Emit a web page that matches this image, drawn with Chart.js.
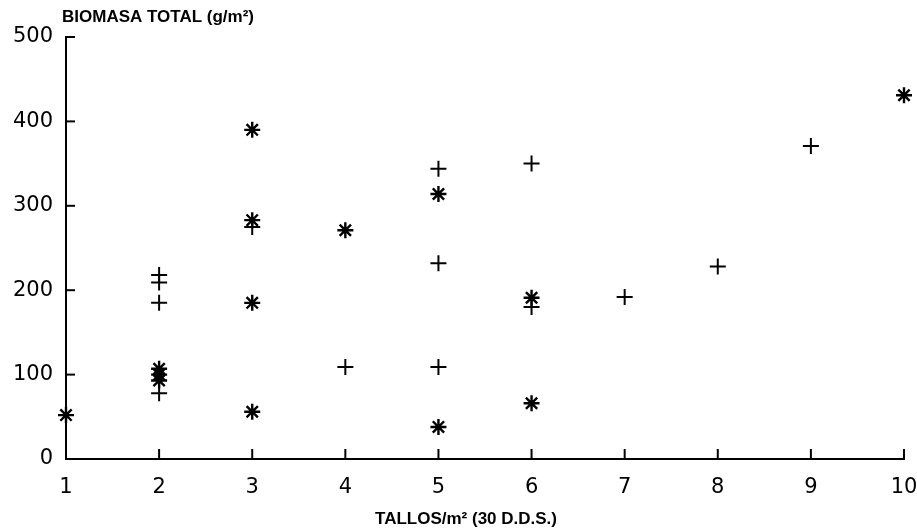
<!DOCTYPE html>
<html>
<head>
<meta charset="utf-8">
<script src="https://cdn.jsdelivr.net/npm/chart.js@4/dist/chart.umd.min.js"></script>
<style>
  html, body { margin: 0; background: #fff; }
</style>
</head>
<body>
<canvas id="chart" width="917" height="528"></canvas>
<script>
// ============================================
// データ
// ============================================
const xTitle = "TALLOS/m² (30 D.D.S.)";
const yTitle = "BIOMASA TOTAL (g/m²)";

// 「*」のシリーズ
const starX = [1, 2, 2, 2, 3, 3, 3, 3, 4, 5, 5, 6, 6, 10];
const starY = [52, 107, 100, 93, 390, 283, 185, 56, 271, 314, 38, 191, 66, 431];

// 「+」のシリーズ
const crossX = [2, 2, 2, 2, 3, 4, 5, 5, 5, 6, 6, 7, 8, 9];
const crossY = [218, 209, 185, 78, 275, 109, 344, 232, 109, 350, 180, 192, 228, 371];

const xMin = 1, xMax = 10, xStep = 1;
const yMin = 0, yMax = 500, yStep = 100;

function toPoints(xs, ys) {
  return xs.map((x, i) => ({ x: x, y: ys[i] }));
}

// ============================================
// 内向きの目盛りと軸タイトルを描くプラグイン
// ============================================
const axisDecor = {
  id: "axisDecor",
  afterDraw(chart) {
    const { ctx, chartArea, scales } = chart;
    const x = scales.x, y = scales.y;
    ctx.save();
    ctx.strokeStyle = "#000";
    ctx.lineWidth = 2;
    // x軸の目盛り（上向き）
    x.ticks.forEach((t) => {
      const px = x.getPixelForValue(t.value);
      ctx.beginPath();
      ctx.moveTo(px, chartArea.bottom);
      ctx.lineTo(px, chartArea.bottom - 10);
      ctx.stroke();
    });
    // y軸の目盛り（右向き）
    y.ticks.forEach((t) => {
      const py = y.getPixelForValue(t.value);
      ctx.beginPath();
      ctx.moveTo(chartArea.left, py);
      ctx.lineTo(chartArea.left + 9, py);
      ctx.stroke();
    });
    // 軸タイトル
    ctx.fillStyle = "#000";
    ctx.font = 'bold 17px "Liberation Sans", Arial, sans-serif';
    ctx.textBaseline = "middle";
    ctx.textAlign = "left";
    ctx.fillText(yTitle, 62, 17);
    ctx.textAlign = "center";
    ctx.fillText(xTitle, 466, 519);
    ctx.restore();
  },
};

const tickFont = { family: '"DejaVu Sans", sans-serif', size: 21 };

new Chart(document.getElementById("chart"), {
  type: "scatter",
  data: {
    datasets: [
      {
        label: "*",
        data: toPoints(starX, starY),
        pointStyle: "star",
        pointRadius: 8,
        borderColor: "#000",
        backgroundColor: "#000",
        borderWidth: 2.4,
        clip: false,
      },
      {
        label: "+",
        data: toPoints(crossX, crossY),
        pointStyle: "cross",
        pointRadius: 8,
        borderColor: "#000",
        backgroundColor: "#000",
        borderWidth: 2,
        clip: false,
      },
    ],
  },
  options: {
    responsive: false,
    animation: false,
    devicePixelRatio: 1,
    layout: { padding: { top: 37, right: 0, left: 0, bottom: 0 } },
    plugins: { legend: { display: false }, tooltip: { enabled: false } },
    scales: {
      x: {
        type: "linear",
        min: xMin,
        max: xMax,
        afterFit: (s) => { s.height = 69; s.paddingLeft = 0; s.paddingRight = 13; },
        ticks: { stepSize: xStep, color: "#000", font: tickFont, padding: 16, maxRotation: 0 },
        grid: { drawOnChartArea: false, drawTicks: false },
        border: { color: "#000", width: 2 },
      },
      y: {
        min: yMin,
        max: yMax,
        afterFit: (s) => { s.width = 66; },
        ticks: { stepSize: yStep, color: "#000", font: tickFont, padding: 13 },
        grid: { drawOnChartArea: false, drawTicks: false },
        border: { color: "#000", width: 2 },
      },
    },
  },
  plugins: [axisDecor],
});
</script>
</body>
</html>
